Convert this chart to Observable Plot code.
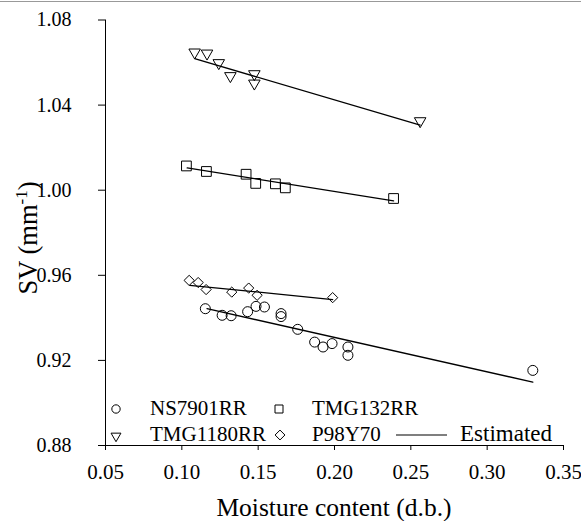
<!DOCTYPE html>
<html><head><meta charset="utf-8">
<script src="https://cdn.jsdelivr.net/npm/d3@7"></script>
<script src="https://cdn.jsdelivr.net/npm/@observablehq/plot@0.6"></script>
<style>
body{margin:0;background:#fff;}
#chart{position:relative;width:581px;height:521px;}
#chart svg, #chart svg text, #chart svg tspan{font-family:"Liberation Serif","Times New Roman",serif !important;}
</style>
</head><body><div id="chart"></div>
<script>
// ---- data ----
const seriesNames = ["NS7901RR", "TMG132RR", "TMG1180RR", "P98Y70"];

const nsX  = [0.1154, 0.1264, 0.1323, 0.1431, 0.1486, 0.1541, 0.1650, 0.1650, 0.1759, 0.1870, 0.1925, 0.1984, 0.2088, 0.2088, 0.3299];
const nsY  = [0.9443, 0.9412, 0.9410, 0.9429, 0.9454, 0.9451, 0.9420, 0.9406, 0.9346, 0.9286, 0.9263, 0.9279, 0.9263, 0.9224, 0.9153];

const t132X = [0.1030, 0.1161, 0.1421, 0.1484, 0.1613, 0.1678, 0.2387];
const t132Y = [1.0114, 1.0088, 1.0075, 1.0032, 1.0030, 1.0011, 0.9961];

const t1180X = [0.1084, 0.1165, 0.1242, 0.1318, 0.1475, 0.1475, 0.2561];
const t1180Y = [1.0648, 1.0643, 1.0598, 1.0537, 1.0546, 1.0502, 1.0325];

const p98X = [0.1048, 0.1107, 0.1159, 0.1327, 0.1438, 0.1493, 0.1988];
const p98Y = [0.9576, 0.9566, 0.9533, 0.9521, 0.9540, 0.9506, 0.9495];

// estimated (fitted) lines: start / end points
const estNsX    = [0.1165, 0.3299], estNsY    = [0.9443, 0.9098];
const est132X   = [0.1035, 0.2387], est132Y   = [1.0105, 0.9950];
const est1180X  = [0.1084, 0.2561], est1180Y  = [1.0618, 1.0306];
const estP98X   = [0.1052, 0.1988], estP98Y   = [0.9553, 0.9486];

const xTicks = [0.05, 0.10, 0.15, 0.20, 0.25, 0.30, 0.35];
const yTicks = [0.88, 0.92, 0.96, 1.00, 1.04, 1.08];

const xTitle = "Moisture content (d.b.)";
const legendLabel = "Estimated";

// ---- build tables ----
const toRows = (name, xs, ys) => xs.map((x, i) => ({series: name, x, y: ys[i]}));
const pts = {
  NS7901RR: toRows("NS7901RR", nsX, nsY),
  TMG132RR: toRows("TMG132RR", t132X, t132Y),
  TMG1180RR: toRows("TMG1180RR", t1180X, t1180Y),
  P98Y70: toRows("P98Y70", p98X, p98Y)
};
const lines = [
  ...toRows("NS7901RR", estNsX, estNsY),
  ...toRows("TMG132RR", est132X, est132Y),
  ...toRows("TMG1180RR", est1180X, est1180Y),
  ...toRows("P98Y70", estP98X, estP98Y)
];

const font = "Liberation Serif";
const mk = {stroke: "#000", fill: "none", strokeWidth: 1};

const chart = Plot.plot({
  width: 581, height: 521,
  marginLeft: 105, marginRight: 18, marginTop: 19.5, marginBottom: 76,
  style: {fontFamily: font, fontSize: "21px", color: "#000", background: "#fff", overflow: "visible"},
  x: {domain: [0.05, 0.35]},
  y: {domain: [0.88, 1.08]},
  marks: [
    Plot.axisX({ticks: xTicks, tickFormat: d3.format(".2f"), tickSize: 5, tickPadding: 14, label: null, stroke: "#000", fontSize: 21}),
    Plot.axisY({ticks: yTicks, tickFormat: d3.format(".2f"), tickSize: 7, tickPadding: 27, label: null, stroke: "#000", fontSize: 20}),
    Plot.ruleX([0.05], {stroke: "#000"}),
    Plot.ruleY([0.88], {stroke: "#000"}),
    Plot.line(lines, {x: "x", y: "y", z: "series", stroke: "#000", strokeWidth: 1.3}),
    Plot.dot(pts.NS7901RR, {x: "x", y: "y", symbol: "circle", r: 5, ...mk}),
    Plot.dot(pts.TMG132RR, {x: "x", y: "y", symbol: "square", r: 5.5, ...mk}),
    Plot.dot(pts.TMG1180RR, {x: "x", y: "y", symbol: "triangle2", r: 5.5, rotate: 180, ...mk}),
    Plot.dot(pts.P98Y70, {x: "x", y: "y", symbol: "diamond2", r: 4.6, ...mk})
  ]
});
document.getElementById("chart").appendChild(chart);

const svg = d3.select(chart);
// top border line
svg.append("line").attr("x1", 0).attr("x2", 581).attr("y1", 1.5).attr("y2", 1.5)
  .attr("stroke", "#999").attr("stroke-width", 1.2);

// x title
svg.append("text").attr("x", 334).attr("y", 516).attr("text-anchor", "middle")
  .attr("font-size", 25.5).attr("fill", "#000").text(xTitle);

// y title with superscript
const yt = svg.append("text").attr("transform", "translate(37,238) rotate(-90)")
  .attr("text-anchor", "middle").attr("font-size", 26.5).attr("fill", "#000");
yt.append("tspan").text("SV (mm");
yt.append("tspan").attr("font-size", 17).attr("dy", -10).text("-1");
yt.append("tspan").attr("dy", 10).text(")");

// legend
const sym = (type, size) => d3.symbol(type, size)();
const leg = svg.append("g").attr("font-size", 21)
  .attr("fill", "#000").attr("text-anchor", "start");
const legItems = [
  {name: seriesNames[0], type: d3.symbolCircle, size: 55, x: 116, y: 409, tx: 150, rot: 0},
  {name: seriesNames[1], type: d3.symbolSquare, size: 64, x: 279, y: 409, tx: 312, rot: 0},
  {name: seriesNames[2], type: d3.symbolTriangle2, size: 70, x: 116, y: 436, tx: 150, rot: 180},
  {name: seriesNames[3], type: d3.symbolDiamond2, size: 62, x: 280, y: 435, tx: 312, rot: 0}
];
for (const it of legItems) {
  leg.append("path").attr("d", sym(it.type, it.size))
    .attr("transform", `translate(${it.x},${it.y}) rotate(${it.rot})`)
    .attr("fill", "none").attr("stroke", "#000");
  leg.append("text").attr("x", it.tx).attr("y", it.y < 420 ? 414.5 : 441).text(it.name);
}
leg.append("line").attr("x1", 396).attr("x2", 447).attr("y1", 435).attr("y2", 435)
  .attr("stroke", "#000").attr("stroke-width", 1.2);
leg.append("text").attr("x", 460).attr("y", 441).attr("font-size", 23).text(legendLabel);
</script>
</body></html>
